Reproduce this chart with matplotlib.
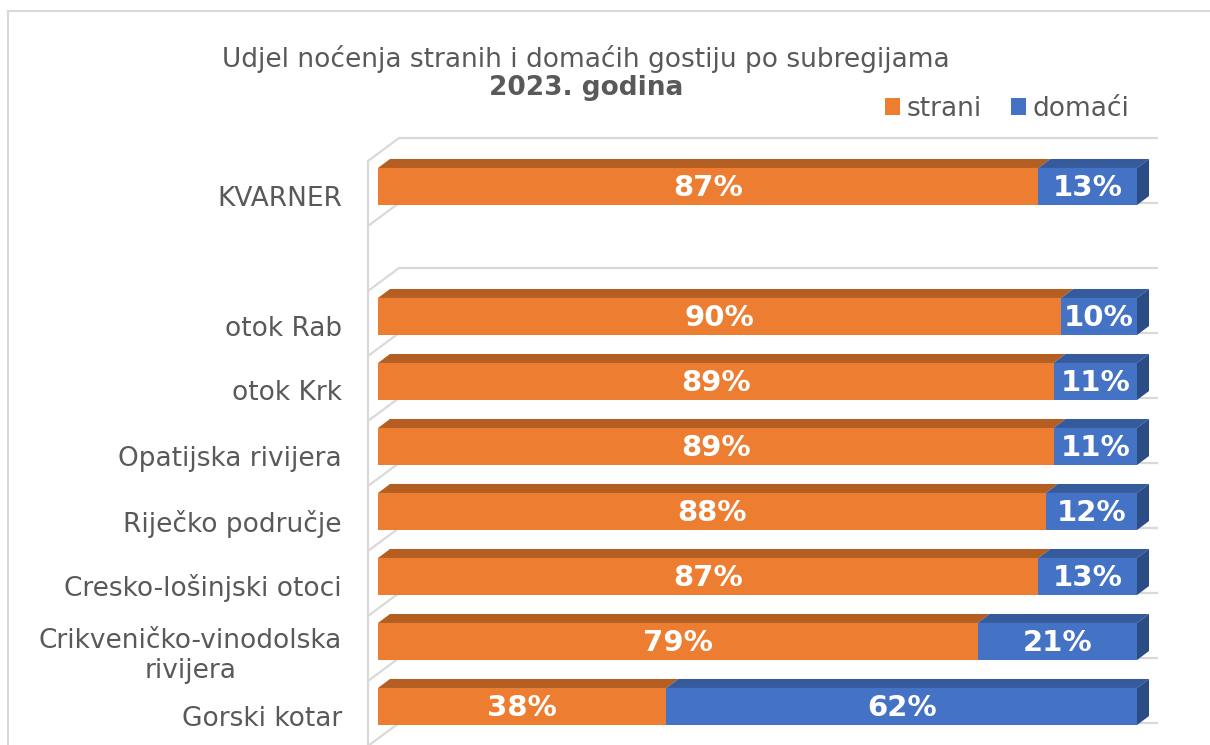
import matplotlib
matplotlib.use("Agg")
import matplotlib.pyplot as plt
from matplotlib.patches import Polygon
from matplotlib.lines import Line2D

categories = ["KVARNER", "", "otok Rab", "otok Krk", "Opatijska rivijera",
              "Riječko područje", "Cresko-lošinjski otoci",
              "Crikveničko-vinodolska\nrivijera", "Gorski kotar"]
strani = [87, None, 90, 89, 89, 88, 87, 79, 38]
domaci = [13, None, 10, 11, 11, 12, 13, 21, 62]
title_line1 = "Udjel noćenja stranih i domaćih gostiju po subregijama"
title_line2 = "2023. godina"
series_names = ["strani", "domaći"]

ORANGE = "#ED7D31"; ORANGE_TOP = "#B55E22"
BLUE = "#4472C4"; BLUE_TOP = "#355B9C"; BLUE_SIDE = "#2C4C86"
GRID = "#D9D9D9"; TXT = "#595959"

W, H = 1210, 745
fig = plt.figure(figsize=(W / 100, H / 100), dpi=100)
ax_left, ax_right = 378, 1137
ax_top, ax_bot = 154, 739
ax = fig.add_axes([ax_left / W, 1 - ax_bot / H, (ax_right - ax_left) / W, (ax_bot - ax_top) / H])
ax.set_xlim(0, 100)
n = len(categories)
ax.set_ylim(n - 0.5, -0.5)

px_x = (ax_right - ax_left) / 100.0   # pixels per x unit
px_y = (ax_bot - ax_top) / n          # pixels per category

def off(x, y, dx_px, dy_px_up):
    return (x + dx_px / px_x, y - dy_px_up / px_y)

# wall / gridlines
bounds = [i - 0.5 for i in range(n + 1)]
FRONT = (-10, -7)   # left, down
BACK = (21, 16)     # right, up
for b in bounds:
    fx, fy = off(0, b, FRONT[0], FRONT[1])
    bx, by = off(0, b, BACK[0], BACK[1])
    ex, ey = off(100, b, BACK[0], BACK[1])
    ax.add_line(Line2D([fx, bx, ex], [fy, by, ey], color=GRID, lw=1.6,
                       clip_on=False, zorder=0, solid_capstyle="butt"))
fx0, fy0 = off(0, bounds[0], FRONT[0], FRONT[1])
ax.add_line(Line2D([fx0, fx0], [fy0, n + 0.5], color=GRID, lw=1.6, clip_on=False, zorder=0))

# bars
h = 0.57
DX, DY = 12, 9
ys = [i for i in range(n) if strani[i] is not None]
s_vals = [strani[i] for i in ys]
d_vals = [domaci[i] for i in ys]
b1 = ax.barh(ys, s_vals, height=h, color=ORANGE, label=series_names[0], zorder=3)
b2 = ax.barh(ys, d_vals, left=s_vals, height=h, color=BLUE, label=series_names[1], zorder=3)

for y, s, d in zip(ys, s_vals, d_vals):
    top = y - h / 2
    bot = y + h / 2
    for left, w, col in [(0, s, ORANGE_TOP), (s, d, BLUE_TOP)]:
        pts = [(left, top), (left + w, top), off(left + w, top, DX, DY), off(left, top, DX, DY)]
        ax.add_patch(Polygon(pts, closed=True, facecolor=col, edgecolor="none", clip_on=False, zorder=2))
    end = s + d
    pts = [(end, top), off(end, top, DX, DY), off(end, bot, DX, DY), (end, bot)]
    ax.add_patch(Polygon(pts, closed=True, facecolor=BLUE_SIDE, edgecolor="none", clip_on=False, zorder=2))
    ax.text(s / 2, y + 0.02, f"{s}%", ha="center", va="center", color="white",
            fontsize=21, fontweight="bold", zorder=5)
    ax.text(s + d / 2, y + 0.02, f"{d}%", ha="center", va="center", color="white",
            fontsize=21, fontweight="bold", zorder=5)

# category labels sit slightly below bar centres (front plane of the wall)
label_shift = 9 / px_y
ax.set_yticks([i + label_shift for i in range(n)])
ax.set_yticklabels(categories, fontsize=19, color=TXT)
for lab in ax.get_yticklabels():
    lab.set_multialignment("center")
ax.tick_params(axis="y", length=0, pad=26)
ax.set_xticks([])
for sp in ax.spines.values():
    sp.set_visible(False)
ax.patch.set_alpha(0)

# titles
fig.text(586 / W, 1 - 67 / H, title_line1, ha="center", va="baseline", fontsize=19, color=TXT)
fig.text(586 / W, 1 - 95 / H, title_line2, ha="center", va="baseline", fontsize=19,
         fontweight="bold", color=TXT)

# legend
leg = fig.legend(handles=[b1, b2], loc="center", bbox_to_anchor=(1007 / W, 1 - 109 / H),
                 ncol=2, frameon=False, fontsize=19, handlelength=0.58, handleheight=0.58,
                 handletextpad=0.25, columnspacing=1.1, labelcolor=TXT, borderaxespad=0)

# chart border
fig.add_artist(Line2D([8 / W, 1.0], [1 - 11 / H, 1 - 11 / H], color=GRID, lw=1.5, transform=fig.transFigure))
fig.add_artist(Line2D([8 / W, 8 / W], [1 - 11 / H, 0], color=GRID, lw=1.5, transform=fig.transFigure))

fig.savefig("out.png", dpi=100)
